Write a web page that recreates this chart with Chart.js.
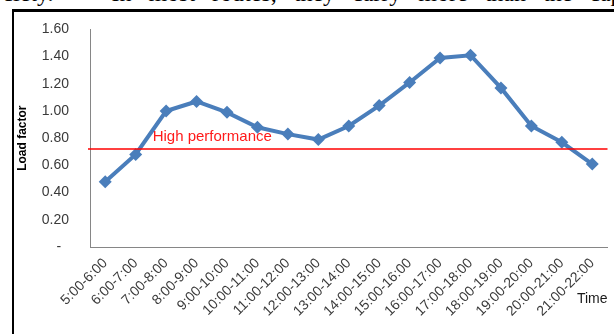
<!DOCTYPE html>
<html>
<head>
<meta charset="utf-8">
<script src="https://cdn.jsdelivr.net/npm/chart.js@4.4.1/dist/chart.umd.min.js"></script>
<style>
  html, body { margin: 0; padding: 0; background: #fff; }
  #page { position: relative; width: 614px; height: 334px; overflow: hidden; }
  /* running text of the page above the figure, clipped by the window */
  .lead {
    position: absolute; left: -19px; top: -19px; white-space: nowrap;
    font: 24px/24px "Liberation Serif", serif; color: #000; word-spacing: 11px;
  }
  .frame {
    position: absolute; left: 12px; top: 9px; width: 700px; height: 400px;
    border-top: 3px solid #000; border-left: 2px solid #000;
  }
  #wrap { position: absolute; left: 0; top: 0; width: 614px; height: 334px; }
</style>
</head>
<body>
<div id="page">
  <div class="lead">society. — In most routes, they carry more than the capacity</div>
  <div class="frame"></div>
  <div id="wrap"><canvas id="loadChart"></canvas></div>
</div>
<script>
// ---------- Load factor by hour of day ---------- //
const timeSlots = [
  "5:00-6:00", "6:00-7:00", "7:00-8:00", "8:00-9:00", "9:00-10:00",
  "10:00-11:00", "11:00-12:00", "12:00-13:00", "13:00-14:00", "14:00-15:00",
  "15:00-16:00", "16:00-17:00", "17:00-18:00", "18:00-19:00", "19:00-20:00",
  "20:00-21:00", "21:00-22:00"
];
const loadFactor = [
  0.48, 0.68, 1.00, 1.07, 0.99, 0.88, 0.83, 0.79, 0.89,
  1.04, 1.21, 1.39, 1.41, 1.17, 0.89, 0.77, 0.61
];
const yMin = 0;
const yMax = 1.6;
const yStep = 0.2;

// reference level for "high performance"
const highPerformance = 0.72;
const highPerformanceLabel = "High performance";

const lineBlue = '#4a7ebb';
const axisGray = '#868686';
const tickColor = '#3a3a3a';

// Horizontal threshold line with its caption
const thresholdLine = {
  id: 'thresholdLine',
  afterDatasetsDraw(chart) {
    const { ctx, chartArea, scales } = chart;
    const y = scales.y.getPixelForValue(highPerformance);
    ctx.save();
    ctx.strokeStyle = '#ff0000';
    ctx.lineWidth = 1.5;
    ctx.beginPath();
    ctx.moveTo(chartArea.left - 2, y);
    ctx.lineTo(chartArea.right, y);
    ctx.stroke();

    ctx.fillStyle = '#ff1a1a';
    ctx.font = '15px "Liberation Sans", Arial, sans-serif';
    ctx.textAlign = 'left';
    ctx.textBaseline = 'alphabetic';
    ctx.fillText(highPerformanceLabel, scales.x.getPixelForValue(1) + 17, y - 8);
    ctx.restore();
  }
};

const ctx = document.getElementById('loadChart').getContext('2d');
new Chart(ctx, {
  type: 'line',
  data: {
    labels: timeSlots,
    datasets: [{
      label: 'Load factor',
      data: loadFactor,
      borderColor: lineBlue,
      backgroundColor: lineBlue,
      borderWidth: 4,
      tension: 0,
      pointStyle: 'rectRot',
      pointRadius: 6.5,
      pointBorderWidth: 0,
      pointBackgroundColor: lineBlue
    }]
  },
  options: {
    responsive: true,
    maintainAspectRatio: false,
    animation: false,
    layout: { padding: { top: 25, right: 6, bottom: 0, left: 0 } },
    plugins: {
      legend: { display: false },
      tooltip: { enabled: false }
    },
    scales: {
      x: {
        offset: true,
        grid: { display: false, drawTicks: false, offset: true },
        border: { display: true, color: axisGray, width: 1 },
        ticks: {
          color: tickColor,
          font: { family: '"Liberation Sans", Arial, sans-serif', size: 14 },
          autoSkip: false,
          minRotation: 45,
          maxRotation: 45,
          padding: 8
        },
        title: {
          display: true,
          text: 'Time',
          align: 'end',
          color: '#1a1a1a',
          font: { family: '"Liberation Sans", Arial, sans-serif', size: 14 },
          padding: { top: 0, bottom: 26 }
        },
        afterFit(scale) { scale.height = 87; }
      },
      y: {
        min: yMin,
        max: yMax,
        grid: { display: false, drawTicks: false },
        border: { display: true, color: axisGray, width: 1 },
        ticks: {
          stepSize: yStep,
          color: tickColor,
          font: { family: '"Liberation Sans", Arial, sans-serif', size: 14 },
          padding: 21,
          callback: v => (Math.abs(v) < 1e-9 ? '-  ' : v.toFixed(2))
        },
        title: {
          display: true,
          text: 'Load factor',
          color: '#000',
          font: { family: '"Liberation Sans", Arial, sans-serif', size: 12, weight: 'bold' },
          padding: { top: 15, bottom: 0 }
        },
        afterFit(scale) { scale.width = 90; }
      }
    }
  },
  plugins: [thresholdLine]
});
</script>
</body>
</html>
